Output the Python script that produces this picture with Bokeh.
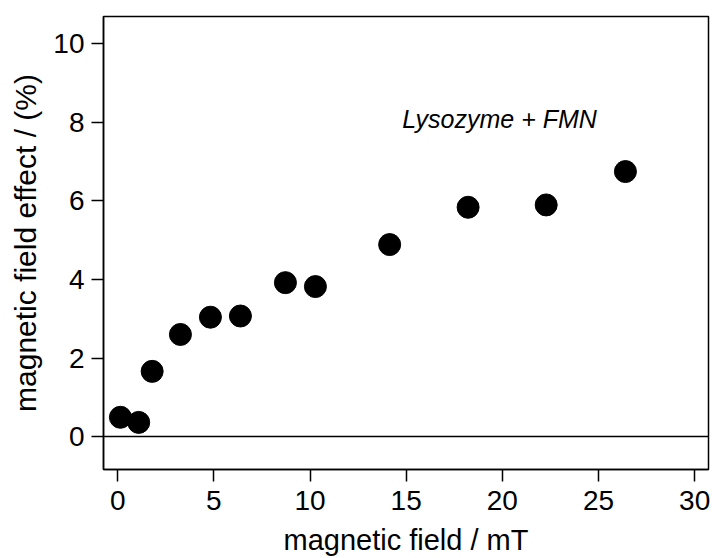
from bokeh.plotting import figure
from bokeh.models import ColumnDataSource, Range1d, Span, Label, FixedTicker
from bokeh.embed import file_html
from bokeh.resources import INLINE

# data
field_mT = [0.14, 1.09, 1.79, 3.26, 4.82, 6.38, 8.72, 10.28, 14.14, 18.22, 22.28, 26.40]
effect_pct = [0.49, 0.36, 1.66, 2.60, 3.04, 3.07, 3.92, 3.82, 4.89, 5.84, 5.90, 6.75]
x_ticks = [0, 5, 10, 15, 20, 25, 30]
y_ticks = [0, 2, 4, 6, 8, 10]
annotation = "Lysozyme + FMN"

FONT = "Liberation Sans"

p = figure(width=712, height=558, output_backend="svg", toolbar_location=None,
           x_range=Range1d(-0.74, 30.72), y_range=Range1d(-0.84, 10.70),
           min_border_left=103, min_border_right=4, min_border_top=16, min_border_bottom=89,
           x_axis_label="magnetic field / mT", y_axis_label="magnetic field effect / (%)")

p.grid.visible = False
p.outline_line_color = "black"
p.outline_line_width = 1.5
p.background_fill_color = "white"
p.border_fill_color = "white"

for ax in (p.xaxis[0], p.yaxis[0]):
    ax.axis_line_color = "black"
    ax.axis_line_width = 1.5
    ax.major_tick_line_color = "black"
    ax.major_tick_line_width = 1.5
    ax.major_tick_in = 0
    ax.major_tick_out = 12
    ax.minor_tick_line_color = None
    ax.major_label_text_font = FONT
    ax.major_label_text_font_size = "28px"
    ax.major_label_text_color = "black"
    ax.axis_label_text_font = FONT
    ax.axis_label_text_font_size = "29px"
    ax.axis_label_text_font_style = "normal"
    ax.axis_label_text_color = "black"

p.yaxis.axis_label_text_font_size = "30px"
p.xaxis.ticker = FixedTicker(ticks=x_ticks)
p.yaxis.ticker = FixedTicker(ticks=y_ticks)
p.xaxis.major_label_standoff = 9
p.yaxis.major_label_standoff = 7
p.xaxis.axis_label_standoff = 11
p.yaxis.axis_label_standoff = 8

p.add_layout(Span(location=0, dimension="width", line_color="black", line_width=1.5))

src = ColumnDataSource(dict(x=field_mT, y=effect_pct))
p.scatter("x", "y", source=src, size=22, fill_color="black", line_color="black")

p.add_layout(Label(x=14.79, y=8.08, text=annotation, text_font=FONT, text_font_size="25px",
                   text_font_style="italic", text_color="black",
                   text_align="left", text_baseline="alphabetic"))

open("out.html", "w").write(file_html(p, INLINE))
